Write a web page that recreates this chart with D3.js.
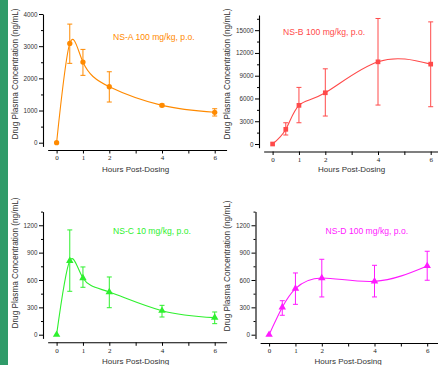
<!DOCTYPE html>
<html>
<head>
<meta charset="utf-8">
<script src="https://cdn.jsdelivr.net/npm/d3@7"></script>
<style>
  body { margin: 0; background: #fff; }
  svg { display: block; }
</style>
</head>
<body>
<script>
// Sampling times (hours)
const hours = [0, 0.5, 1, 2, 4, 6];
const xTickValues = [0, 1, 2, 3, 4, 5, 6];
const xTickLabels = [0, 1, 2, 4, 6];

// NS-A 100 mg/kg, p.o.
const nsA_mean = [0, 3087, 2506, 1739, 1161, 944];
const nsA_lo = [0, 2466, 2093, 1264, 1118, 829];
const nsA_hi = [0, 3686, 2900, 2205, 1202, 1056];

// NS-B 100 mg/kg, p.o.
const nsB_mean = [0, 1934, 5092, 6750, 10829, 10526];
const nsB_lo = [0, 1184, 2800, 3684, 5132, 4912];
const nsB_hi = [0, 2800, 7460, 9908, 16540, 16092];

// NS-C 10 mg/kg, p.o.
const nsC_mean = [0, 811, 622, 468, 263, 187];
const nsC_lo = [0, 476, 520, 296, 194, 121];
const nsC_hi = [0, 1149, 743, 633, 322, 249];

// NS-D 100 mg/kg, p.o.
const nsD_mean = [0, 300, 505, 622, 585, 754];
const nsD_lo = [0, 213, 333, 414, 414, 597];
const nsD_hi = [0, 373, 677, 827, 761, 915];

// y tick values
const yTicksA = [0, 1000, 2000, 3000, 4000];
const yMinorA = [500, 1500, 2500, 3500];
const yTicksB = [0, 3000, 6000, 9000, 12000, 15000];
const yMinorB = [1500, 4500, 7500, 10500, 13500, 16500];
const yTicksCD = [0, 300, 600, 900, 1200];
const yMinorCD = [150, 450, 750, 1050, 1350];

const width = 438;
const height = 365;

const svg = d3.select("body").append("svg")
  .attr("width", width)
  .attr("height", height)
  .attr("viewBox", [0, 0, width, height]);

// green band at left edge
svg.append("rect")
  .attr("x", 0).attr("y", 0)
  .attr("width", 8).attr("height", height)
  .attr("fill", "#2f9b69");

const panels = [
  { label: "NS-A 100 mg/kg, p.o.", mean: nsA_mean, lo: nsA_lo, hi: nsA_hi,
    yMax: 4000, ticks: yTicksA, minor: yMinorA, color: "#ff8a00", marker: "circle",
    ax: 43, xAxisY: 150, y0: 142.7, yTop: 14, labelX: 113, labelY: 39.5,
    titleY: 74, titleX: 15, xTitleY: 172 },
  { label: "NS-B 100 mg/kg, p.o.", mean: nsB_mean, lo: nsB_lo, hi: nsB_hi,
    yMax: 17000, ticks: yTicksB, minor: yMinorB, color: "#ff4a4a", marker: "square",
    ax: 259, xAxisY: 151.5, y0: 144, yTop: 15, labelX: 283, labelY: 34.5,
    titleY: 74, titleX: 227.5, xTitleY: 172 },
  { label: "NS-C 10 mg/kg, p.o.", mean: nsC_mean, lo: nsC_lo, hi: nsC_hi,
    yMax: 1350, ticks: yTicksCD, minor: yMinorCD, color: "#2ef02e", marker: "triangle",
    ax: 43, xAxisY: 342.3, y0: 334.7, yTop: 211.6, labelX: 113, labelY: 234,
    titleY: 263, titleX: 15, xTitleY: 364 },
  { label: "NS-D 100 mg/kg, p.o.", mean: nsD_mean, lo: nsD_lo, hi: nsD_hi,
    yMax: 1350, ticks: yTicksCD, minor: yMinorCD, color: "#ff1aff", marker: "triangle",
    ax: 255.5, xAxisY: 343, y0: 334.7, yTop: 211.6, labelX: 325.5, labelY: 233.5,
    titleY: 266, titleX: 227.5, xTitleY: 364 }
];

const pxPerHour = 26.35;

panels.forEach(p => {
  const g = svg.append("g");
  const x0 = p.ax + 13.6;
  const x = d3.scaleLinear()
    .domain([-0.34, 6.45])
    .range([x0 - 0.34 * pxPerHour, x0 + 6.45 * pxPerHour]);

  // extend the y axis a little below zero
  const pxPerUnit = (p.y0 - p.yTop) / p.yMax;
  const yLo = -3.7 / pxPerUnit;
  const y = d3.scaleLinear()
    .domain([yLo, p.yMax])
    .range([p.y0 + 3.7, p.yTop]);

  // x axis
  const xAxis = g.append("g")
    .attr("transform", `translate(0,${p.xAxisY})`)
    .call(d3.axisBottom(x)
      .tickValues(xTickValues)
      .tickSize(3.5)
      .tickSizeOuter(0)
      .tickPadding(2)
      .tickFormat(d => xTickLabels.includes(d) ? d : ""));
  xAxis.select(".domain").attr("stroke", "#000").attr("stroke-width", 1.1);
  xAxis.selectAll(".tick line").attr("stroke", "#000");
  xAxis.selectAll(".tick text")
    .attr("fill", "#222")
    .style("font-family", "'Liberation Serif', 'DejaVu Serif', serif")
    .style("font-size", "7px");

  // y axis
  const yAxis = g.append("g")
    .attr("transform", `translate(${p.ax},0)`)
    .call(d3.axisLeft(y)
      .tickValues(p.ticks)
      .tickSize(4)
      .tickSizeOuter(0)
      .tickPadding(1.5)
      .tickFormat(d3.format("d")));
  yAxis.select(".domain").attr("stroke", "#000").attr("stroke-width", 1.1);
  yAxis.selectAll(".tick line").attr("stroke", "#000");
  yAxis.selectAll(".tick text")
    .attr("fill", "#333")
    .style("font-family", "'Liberation Sans', Arial, sans-serif")
    .style("font-size", "6.3px");

  // minor y ticks
  g.append("g")
    .attr("transform", `translate(${p.ax},0)`)
    .call(d3.axisLeft(y).tickValues(p.minor).tickSize(2).tickFormat(""))
    .call(a => a.select(".domain").remove())
    .selectAll(".tick line").attr("stroke", "#000");

  // axis titles
  g.append("text")
    .attr("x", x(3))
    .attr("y", p.xTitleY)
    .attr("text-anchor", "middle")
    .attr("fill", "#333")
    .style("font-family", "'Liberation Sans', Arial, sans-serif")
    .style("font-size", "8px")
    .text("Hours Post-Dosing");

  g.append("text")
    .attr("transform", `translate(${p.titleX},${p.titleY}) rotate(-90)`)
    .attr("text-anchor", "middle")
    .attr("dy", "0.35em")
    .attr("fill", "#333")
    .style("font-family", "'Liberation Sans', Arial, sans-serif")
    .style("font-size", "8.2px")
    .text("Drug Plasma Concentration (ng/mL)");

  const data = hours.map((h, i) => ({ h, m: p.mean[i], lo: p.lo[i], hi: p.hi[i] }));

  // smooth curve
  const line = d3.line()
    .x(d => x(d.h))
    .y(d => y(d.m))
    .curve(d3.curveNatural);
  g.append("path")
    .attr("d", line(data))
    .attr("fill", "none")
    .attr("stroke", p.color)
    .attr("stroke-width", 1.1);

  // error bars
  const eb = g.append("g").attr("stroke", p.color).attr("stroke-width", 1);
  data.filter(d => d.hi > d.lo).forEach(d => {
    eb.append("line").attr("x1", x(d.h)).attr("x2", x(d.h))
      .attr("y1", y(d.lo)).attr("y2", y(d.hi));
    eb.append("line").attr("x1", x(d.h) - 2.5).attr("x2", x(d.h) + 2.5)
      .attr("y1", y(d.lo)).attr("y2", y(d.lo));
    eb.append("line").attr("x1", x(d.h) - 2.5).attr("x2", x(d.h) + 2.5)
      .attr("y1", y(d.hi)).attr("y2", y(d.hi));
  });

  // markers
  const symType = p.marker === "circle" ? d3.symbolCircle
    : p.marker === "square" ? d3.symbolSquare : d3.symbolTriangle;
  const symSize = p.marker === "circle" ? 22 : p.marker === "square" ? 22 : 24;
  g.selectAll(".pt")
    .data(data)
    .join("path")
    .attr("class", "pt")
    .attr("transform", d => `translate(${x(d.h)},${y(d.m)})`)
    .attr("d", d3.symbol(symType, symSize))
    .attr("fill", p.color);

  // annotation
  g.append("text")
    .attr("x", p.labelX)
    .attr("y", p.labelY)
    .attr("fill", p.color)
    .style("font-family", "'Liberation Sans', Arial, sans-serif")
    .style("font-size", "8.6px")
    .text(p.label);
});
</script>
</body>
</html>
